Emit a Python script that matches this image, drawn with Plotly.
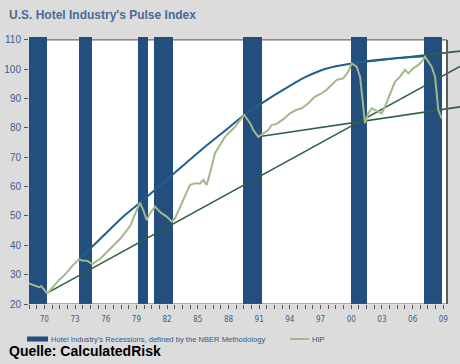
import plotly.graph_objects as go

# ---------------- data ----------------
rec_start = [1969.0, 1973.9, 1979.68, 1981.2, 1989.9, 2000.48, 2007.6]
rec_end = [1970.77, 1975.2, 1980.6, 1983.05, 1991.75, 2002.0, 2009.35]

hip_year = [1969.00, 1969.65, 1969.98, 1970.20, 1970.47, 1970.76, 1970.96, 1971.44, 1971.93,
            1972.26, 1972.59, 1972.91, 1973.23, 1973.57, 1973.89, 1974.21, 1974.70, 1975.19,
            1975.52, 1976.01, 1976.50, 1976.99, 1977.47, 1977.96, 1978.45, 1978.94, 1979.26,
            1979.59, 1979.85, 1980.17, 1980.51, 1980.83, 1981.32, 1981.64, 1981.97, 1982.46,
            1982.95, 1983.27, 1983.76, 1984.25, 1984.74, 1985.23, 1985.72, 1986.04, 1986.37,
            1986.69, 1987.18, 1987.67, 1988.16, 1988.65, 1989.14, 1989.63, 1990.05, 1990.61,
            1990.93, 1991.41, 1991.90, 1992.39, 1992.72, 1993.21, 1993.86, 1994.51, 1995.17,
            1995.66, 1996.30, 1996.96, 1997.45, 1998.10, 1998.59, 1999.08, 1999.72, 2000.21,
            2000.54, 2001.03, 2001.36, 2001.52, 2001.68, 2001.84, 2002.17, 2002.50, 2002.82,
            2003.14, 2003.48, 2003.80, 2004.12, 2004.45, 2004.78, 2005.27, 2005.76, 2006.08,
            2006.57, 2007.06, 2007.39, 2007.71, 2008.03, 2008.36, 2008.69, 2008.85, 2009.01,
            2009.34]
hip_value = [27.0, 26.1, 25.7, 26.1, 25.0, 23.7, 24.2, 26.1, 28.2,
             29.1, 30.2, 31.6, 33.0, 34.1, 35.2, 34.8, 34.7, 33.6,
             34.4, 35.6, 37.3, 39.0, 40.7, 42.4, 44.6, 46.9, 49.8,
             52.6, 54.5, 52.0, 48.6, 50.9, 53.2, 52.0, 50.9, 49.8,
             48.1, 49.2, 53.2, 56.6, 60.6, 61.1, 61.1, 62.3, 60.6,
             64.6, 71.4, 74.2, 77.0, 78.7, 80.4, 82.7, 84.4, 81.6,
             79.3, 77.0, 78.2, 79.3, 81.0, 81.4, 83.0, 85.0, 86.2,
             86.7, 88.4, 90.7, 91.5, 93.0, 94.7, 96.4, 96.9, 99.2,
             102.0, 100.9, 97.5, 93.0, 87.3, 81.6, 85.0, 86.7, 86.1,
             85.5, 85.0, 87.3, 90.1, 93.5, 95.8, 97.5, 99.8, 98.6,
             100.3, 101.5, 102.6, 104.3, 102.6, 100.9, 97.5, 90.7, 86.1,
             83.3]

# upper envelope curve (blue)
env_year = [1973.89, 1976.0, 1978.38, 1979.85, 1982.0, 1984.0, 1986.0, 1988.0, 1990.05,
            1992.0, 1994.0, 1996.0, 1998.0, 2000.54, 2004.0, 2007.71]
env_value = [35.2, 42.3, 50.3, 54.5, 61.0, 67.0, 73.0, 78.6, 84.4,
             89.0, 93.3, 97.3, 100.2, 102.0, 103.5, 104.4]

# straight trend lines (green)
trend_a_year = [1970.76, 2011.13]
trend_a_value = [23.7, 101.0]
trend_b_year = [1991.41, 2011.13]
trend_b_value = [77.0, 87.2]
trend_d_year = [2000.54, 2011.13]
trend_d_value = [102.0, 106.2]

x_labels = ["70", "73", "76", "79", "82", "85", "88", "91", "94", "97", "00", "03", "06", "09"]
x_label_years = [1970, 1973, 1976, 1979, 1982, 1985, 1988, 1991, 1994, 1997, 2000, 2003, 2006, 2009]
y_ticks = [20, 30, 40, 50, 60, 70, 80, 90, 100, 110]

# ---------------- styling ----------------
BG = "#DCDCDC"
BAR = "#234E7D"
BLUE = "#1F5F8F"
GREEN = "#2F5E49"
HIPC = "#A3B78A"
TXT = "#3D5E8B"
X0, X1 = 1969.0, 2011.13
PLOT_RIGHT = 2009.86
Y0, Y1 = 20, 111

fig = go.Figure()

fig.add_trace(go.Bar(
    x=[(s + e) / 2 for s, e in zip(rec_start, rec_end)],
    y=[110.9 - 20 for _ in rec_start],
    base=20,
    width=[e - s for s, e in zip(rec_start, rec_end)],
    marker=dict(color=BAR, line=dict(width=0)),
    showlegend=False, hoverinfo="skip"))

for xs, ys in [(trend_a_year, trend_a_value), (trend_b_year, trend_b_value),
               (trend_d_year, trend_d_value)]:
    fig.add_trace(go.Scatter(x=xs, y=ys, mode="lines",
                             line=dict(color=GREEN, width=1.6),
                             showlegend=False, hoverinfo="skip"))

fig.add_trace(go.Scatter(x=env_year, y=env_value, mode="lines",
                         line=dict(color=BLUE, width=2, shape="spline", smoothing=0.8),
                         showlegend=False, hoverinfo="skip"))

fig.add_trace(go.Scatter(x=hip_year, y=hip_value, mode="lines",
                         line=dict(color=HIPC, width=2),
                         showlegend=False, hoverinfo="skip"))

L, T, B = 29, 37, 60
W, H = 460, 364
pw, ph = W - L, H - T - B


def px(xp):
    return (xp - L) / pw


def py(yp):
    return (H - B - yp) / ph


shapes = [
    dict(type="rect", xref="x", yref="y", x0=X0, x1=PLOT_RIGHT, y0=20, y1=110,
         fillcolor="white", line=dict(width=0), layer="below"),
    dict(type="line", xref="x", yref="y", x0=X0, x1=PLOT_RIGHT, y0=110, y1=110,
         line=dict(color="#707070", width=1.2), layer="below"),
    dict(type="line", xref="x", yref="y", x0=PLOT_RIGHT, x1=PLOT_RIGHT, y0=20, y1=110,
         line=dict(color="#606060", width=2), layer="above"),
    dict(type="line", xref="x", yref="y", x0=X0, x1=PLOT_RIGHT, y0=20, y1=20,
         line=dict(color="#555555", width=1), layer="above"),
    # legend symbols
    dict(type="rect", xref="paper", yref="paper", x0=px(27), x1=px(48), y0=py(341.5), y1=py(336.5),
         fillcolor=BAR, line=dict(width=0)),
    dict(type="line", xref="paper", yref="paper", x0=px(290), x1=px(309), y0=py(339), y1=py(339),
         line=dict(color=HIPC, width=2)),
]

annotations = [
    dict(text="<b>U.S. Hotel Industry's Pulse Index</b>", xref="paper", yref="paper",
         x=px(7), y=py(15), xanchor="left", yanchor="middle", showarrow=False,
         font=dict(family="Liberation Sans, Arial", size=12, color="#4A6B96")),
    dict(text="Hotel Industry's Recessions, defined by the NBER Methodology", xref="paper",
         yref="paper", x=px(49), y=py(339), xanchor="left", yanchor="middle", showarrow=False,
         font=dict(family="Liberation Sans, Arial", size=7.6, color="#34558A")),
    dict(text="HIP", xref="paper", yref="paper", x=px(310), y=py(339), xanchor="left",
         yanchor="middle", showarrow=False,
         font=dict(family="Liberation Sans, Arial", size=7.6, color="#34558A")),
    dict(text="<b>Quelle: CalculatedRisk</b>", xref="paper", yref="paper", x=px(7), y=py(351),
         xanchor="left", yanchor="middle", showarrow=False,
         font=dict(family="Liberation Sans, Arial", size=14, color="black")),
]

minor_ticks = []
t = X0
while t <= PLOT_RIGHT + 1e-6:
    minor_ticks.append(round(t, 3))
    t += 0.75

fig.update_layout(
    width=W, height=H,
    margin=dict(l=L, r=0, t=T, b=B, pad=0, autoexpand=False),
    paper_bgcolor=BG, plot_bgcolor=BG,
    bargap=0, showlegend=False,
    shapes=shapes, annotations=annotations,
    xaxis=dict(range=[X0, X1], showgrid=False, zeroline=False, showline=False,
               automargin=False,
               tickmode="array", tickvals=[y + 0.5 for y in x_label_years], ticktext=x_labels,
               ticks="", ticklabelstandoff=9,
               tickfont=dict(family="DejaVu Sans Condensed, Liberation Sans Narrow, Arial",
                             size=8, color=TXT),
               minor=dict(ticks="outside", ticklen=4, tickcolor="#555555",
                          tickmode="array", tickvals=minor_ticks, showgrid=False)),
    yaxis=dict(range=[Y0, Y1], showgrid=False, zeroline=False, showline=False,
               automargin=False,
               tickmode="array", tickvals=y_ticks, ticks="outside", ticklen=4,
               tickcolor="#555555", ticklabelstandoff=1,
               tickfont=dict(family="Liberation Sans, Arial", size=10, color=TXT)),
)

fig.write_html("out.html", config={"displayModeBar": False},
               post_script="document.body.style.margin='0';document.body.style.background='%s';" % BG)
